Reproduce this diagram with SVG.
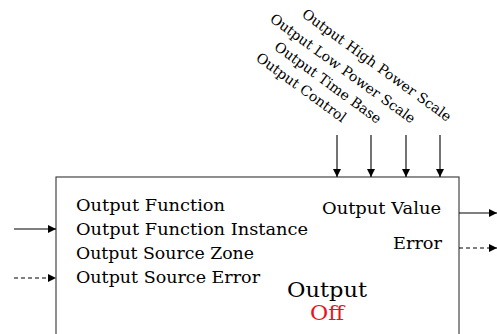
<svg xmlns="http://www.w3.org/2000/svg" width="497" height="334" viewBox="0 0 497 334">
<style>
text{font-family:"DejaVu Serif","Liberation Serif",serif;fill:#000}
.lbl{font-size:16.5px}
.rot{font-size:14px;text-anchor:end}
.big{font-size:21px}
.c{stroke:#000;stroke-width:1.1;fill:none}
.d{stroke-dasharray:4,3}
</style>
<defs>
<marker id="ah" viewBox="0 0 10 10" refX="10" refY="5" markerWidth="8" markerHeight="8" markerUnits="userSpaceOnUse" orient="auto">
<path d="M0,0 L10,5 L0,10 Z" fill="#000"/>
</marker>
</defs>
<g id="block">
<rect x="56" y="177" width="403" height="200" fill="#fff" stroke="#333" stroke-width="1.1"/>
<text class="lbl" x="76" y="211" textLength="149" lengthAdjust="spacingAndGlyphs">Output Function</text>
<text class="lbl" x="76" y="235" textLength="232" lengthAdjust="spacingAndGlyphs">Output Function Instance</text>
<text class="lbl" x="76" y="259" textLength="178" lengthAdjust="spacingAndGlyphs">Output Source Zone</text>
<text class="lbl" x="76" y="283" textLength="184" lengthAdjust="spacingAndGlyphs">Output Source Error</text>
<text class="lbl" x="322" y="214" textLength="119" lengthAdjust="spacingAndGlyphs">Output Value</text>
<text class="lbl" x="393" y="249" textLength="49" lengthAdjust="spacingAndGlyphs">Error</text>
<text class="big" x="287" y="297" textLength="80" lengthAdjust="spacingAndGlyphs">Output</text>
<text class="big" x="310" y="320" textLength="34" lengthAdjust="spacingAndGlyphs" style="fill:#e8141c">Off</text>
</g>
<g id="inputs-top">
<text class="rot" transform="translate(342,123) rotate(36)">Output Control</text>
<text class="rot" transform="translate(377,124) rotate(36)">Output Time Base</text>
<text class="rot" transform="translate(411,124) rotate(36)">Output Low Power Scale</text>
<text class="rot" transform="translate(447,122) rotate(36)">Output High Power Scale</text>
</g>
<g id="connectors">
<line class="c" x1="337" y1="135" x2="337" y2="177" marker-end="url(#ah)"/>
<line class="c" x1="371" y1="135" x2="371" y2="177" marker-end="url(#ah)"/>
<line class="c" x1="406" y1="135" x2="406" y2="177" marker-end="url(#ah)"/>
<line class="c" x1="440" y1="135" x2="440" y2="177" marker-end="url(#ah)"/>
<line class="c" x1="14" y1="229" x2="56" y2="229" marker-end="url(#ah)"/>
<line class="c d" x1="14" y1="278" x2="56" y2="278" marker-end="url(#ah)"/>
<line class="c" x1="459" y1="213" x2="497" y2="213" marker-end="url(#ah)"/>
<line class="c d" x1="459" y1="248" x2="497" y2="248" marker-end="url(#ah)"/>
</g>
</svg>
